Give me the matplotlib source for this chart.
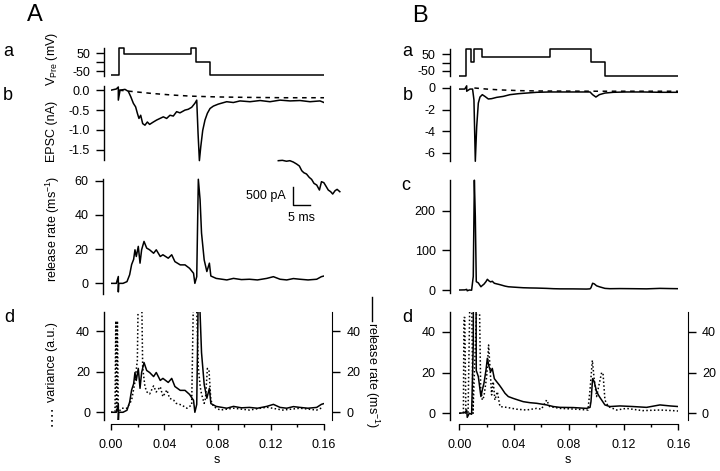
import matplotlib
matplotlib.use('Agg')
import matplotlib.pyplot as plt
from matplotlib.lines import Line2D
from matplotlib.ticker import MultipleLocator

plt.rcParams['font.family'] = ['Liberation Sans', 'DejaVu Sans']
plt.rcParams['mathtext.default'] = 'regular'

# ---- panel A data (time in s) ----
a_vpre_t = [0.0, 0.006, 0.010, 0.060, 0.064, 0.074, 0.160]
a_vpre_v = [-74, 78, 48, 78, 2, -74, -74]

a_epsc_t = [0.0, 0.004, 0.0055, 0.0055, 0.0068, 0.0105, 0.013, 0.0148, 0.0168, 0.0185, 0.0198, 0.021,
            0.0223, 0.0238, 0.0255, 0.0273, 0.029, 0.0318, 0.0343, 0.0368, 0.0393, 0.0418, 0.0443,
            0.0468, 0.0493, 0.0518, 0.0556, 0.058, 0.0606, 0.063, 0.0644, 0.0654, 0.0664, 0.0674,
            0.0689, 0.0706, 0.0724, 0.0744, 0.0769, 0.0806, 0.0869, 0.0919, 0.0969, 0.1044, 0.112,
            0.1194, 0.127, 0.1345, 0.142, 0.1495, 0.157, 0.160]
a_epsc_v = [0.0, 0.03, 0.08, -0.25, 0.0, 0.02, -0.03, -0.16, -0.33, -0.42, -0.58, -0.71,
            -0.63, -0.84, -0.88, -0.80, -0.86, -0.80, -0.75, -0.71, -0.67, -0.71, -0.63,
            -0.65, -0.54, -0.57, -0.50, -0.48, -0.43, -0.33, -0.25, -1.09, -1.77, -1.43,
            -1.01, -0.75, -0.58, -0.46, -0.40, -0.35, -0.29, -0.31, -0.27, -0.29, -0.26,
            -0.29, -0.25, -0.27, -0.26, -0.29, -0.27, -0.31]
a_fit_t = [0.006, 0.015, 0.03, 0.045, 0.06, 0.08, 0.10, 0.13, 0.16]
a_fit_v = [0.0, -0.03, -0.08, -0.12, -0.15, -0.17, -0.18, -0.19, -0.19]

a_rate_t = [0.0005, 0.004, 0.0055, 0.0055, 0.0058, 0.009, 0.012, 0.014, 0.0155, 0.017, 0.018, 0.019,
            0.0205, 0.0218, 0.023, 0.0248, 0.0268, 0.029, 0.032, 0.034, 0.037, 0.039, 0.043,
            0.0456, 0.048, 0.052, 0.0556, 0.059, 0.062, 0.063, 0.0644, 0.0656, 0.0669, 0.068,
            0.070, 0.072, 0.0739, 0.075, 0.079, 0.087, 0.092, 0.098, 0.104, 0.110, 0.117, 0.122,
            0.127, 0.132, 0.137, 0.142, 0.148, 0.1545, 0.158, 0.160]
a_rate_v = [0, 0, 4, -5, 0, 0, 1, 5, 11, 14, 19.6, 15.7,
            21.6, 11.8, 19.6, 24.5, 20.6, 19.6, 17.6, 19.6, 15.7, 16.7, 14.7,
            16.7, 12.7, 10.8, 10.8, 8.8, 5.9, 0, 3.9, 60.8, 49, 29.4,
            13.7, 6.9, 11.8, 4.3, 2.9, 2.0, 2.9, 2.2, 2.4, 2.0, 2.9, 3.9,
            2.4, 2.0, 2.8, 2.4, 2.0, 2.4, 3.9, 4.3]

a_var_t = [0.0, 0.003, 0.0036, 0.0042, 0.0048, 0.0055, 0.008, 0.012, 0.0155, 0.018, 0.0198, 0.0205,
           0.023, 0.0238, 0.0255, 0.027, 0.029, 0.032, 0.034, 0.037, 0.039, 0.042, 0.044, 0.047,
           0.049, 0.053, 0.057, 0.0606, 0.062, 0.064, 0.0656, 0.067, 0.068, 0.070, 0.071, 0.0724,
           0.0736, 0.075, 0.077, 0.082, 0.092, 0.104, 0.117, 0.129, 0.142, 0.1545, 0.1595]
a_var_v = [0, 0.3, 45, 1, 45, 0, 2, 2, 6, 15, 25.7, 60,
           60, 22, 12.6, 10, 9, 13, 10, 12.6, 7.7, 11, 6.9, 6,
           4.4, 3.6, 2, 3.6, 60, 60, 22, 12.6, 9, 4.4, 6.9, 21.6,
           20.8, 6, 2.8, 1.1, 2, 1.1, 2.5, 1.1, 2, 1.1, 2.5]

# inset: EPSC detail (ms, pA)
ins_t = [0.0, 1.2, 2.4, 3.4, 4.4, 5.4, 6.2, 6.9, 7.5, 8.3, 9.1, 9.8, 10.5, 11.3, 12.1,
         12.7, 13.4, 14.0, 14.7, 15.4, 16.0, 16.7, 17.3, 18.1]
ins_v = [0, 10, -15, 0, -37, -93, -148, -278, -333, -370, -463, -519, -630, -676, -815,
         -583, -611, -704, -815, -861, -926, -833, -796, -861]

# ---- panel B data ----
b_vpre_t = [0.0, 0.005, 0.0085, 0.011, 0.0164, 0.066, 0.096, 0.1065, 0.160]
b_vpre_v = [-79, 78, 1, 78, 34, 78, 1, -79, -79]

b_epsc_t = [0.0, 0.004, 0.0054, 0.0054, 0.0078, 0.0097, 0.0107, 0.0117, 0.0127, 0.0139, 0.0151,
            0.0168, 0.0187, 0.0212, 0.0236, 0.0273, 0.0321, 0.037, 0.0431, 0.0492, 0.0565,
            0.0662, 0.0784, 0.0955, 0.0974, 0.0998, 0.1023, 0.1064, 0.1125, 0.1222, 0.1344,
            0.1466, 0.160]
b_epsc_v = [-0.1, -0.1, 0.2, -0.3, -0.1, -0.1, -1.1, -6.8, -3.6, -1.4, -0.84,
            -0.62, -0.78, -1.02, -0.99, -0.87, -0.78, -0.62, -0.53, -0.47, -0.40,
            -0.37, -0.37, -0.37, -0.62, -0.84, -0.62, -0.47, -0.40, -0.37, -0.37,
            -0.40, -0.40]
b_fit_t = [0.011, 0.02, 0.03, 0.045, 0.06, 0.10, 0.16]
b_fit_v = [0.0, -0.1, -0.18, -0.25, -0.28, -0.30, -0.30]

b_rate_t = [0.0, 0.004, 0.0054, 0.0058, 0.0073, 0.009, 0.0102, 0.011, 0.0117, 0.0124, 0.0139,
            0.0158, 0.0168, 0.018, 0.0195, 0.0205, 0.0217, 0.0229, 0.0241, 0.0256, 0.0273,
            0.0292, 0.031, 0.0334, 0.0358, 0.0394, 0.043, 0.0467, 0.0516, 0.0565, 0.0638,
            0.0687, 0.0735, 0.0833, 0.093, 0.0955, 0.0962, 0.0974, 0.0986, 0.1003, 0.1023,
            0.104, 0.1064, 0.110, 0.1174, 0.127, 0.1368, 0.1466, 0.154, 0.160]
b_rate_v = [0, 0.3, 1.6, -2, 0, -0.5, 34, 277, 185, 21, 18,
            8.2, 11.4, 14.7, 21.2, 27, 22.9, 20.4, 22, 17, 15.5,
            13.9, 12.2, 9.8, 8.2, 7.3, 6.5, 5.7, 5.2, 4.9, 4.1,
            3.3, 2.9, 2.8, 2.4, 2.9, 5.7, 17, 15.5, 10.6, 8.2,
            6.5, 4.1, 3.3, 3.6, 3.3, 2.9, 4.1, 3.6, 3.3]

b_var_t = [0.0, 0.003, 0.0034, 0.0040, 0.0048, 0.0064, 0.0078, 0.0090, 0.0100, 0.0131, 0.0146,
           0.0156, 0.0168, 0.018, 0.020, 0.0214, 0.0224, 0.0236, 0.0248, 0.026, 0.0278, 0.0297,
           0.0346, 0.0419, 0.049, 0.0565, 0.060, 0.0638, 0.066, 0.0735, 0.0857, 0.094, 0.0955,
           0.0972, 0.0986, 0.1003, 0.1023, 0.104, 0.105, 0.1064, 0.1088, 0.115, 0.122, 0.134,
           0.1466, 0.156, 0.160]
b_var_v = [0, 0.3, 47, 47, 0, 0, 60, 60, 0, 60, 60,
           13, 6.5, 8.2, 18, 33.5, 22.9, 9, 15.5, 6.5, 10.6, 3.3,
           2.9, 2.0, 1.6, 2.4, 2.0, 6.5, 3.3, 2.4, 2.0, 1.6, 11.4,
           26, 16.3, 8.2, 14.7, 20, 19.6, 6.5, 3.3, 1.6, 2.4, 1.3,
           1.6, 1.3, 1.1]

x_ticks = [0.0, 0.04, 0.08, 0.12, 0.16]
x_labels = ['0.00', '0.04', '0.08', '0.12', '0.16']

W, H = 720, 471
FS = 9
fig = plt.figure(figsize=(W / 100, H / 100), dpi=100)


def px_axes(x0, y0, x1, y1):
    return fig.add_axes([x0 / W, 1 - y1 / H, (x1 - x0) / W, (y1 - y0) / H])


def style(ax, ylim, yticks, ylabels, left_out, bounds=None, xaxis=False):
    ax.set_xlim(0, 0.16)
    ax.set_ylim(*ylim)
    ax.patch.set_visible(False)
    for s in ['top', 'right']:
        ax.spines[s].set_visible(False)
    ax.spines['left'].set_position(('outward', left_out))
    ax.spines['left'].set_linewidth(1.0)
    if bounds is not None:
        ax.spines['left'].set_bounds(*bounds)
    ax.set_yticks(yticks)
    ax.set_yticklabels(ylabels)
    ax.tick_params(axis='y', direction='out', length=6, width=1, pad=4, labelsize=FS)
    if xaxis:
        ax.spines['bottom'].set_position(('outward', 3))
        ax.spines['bottom'].set_bounds(0, 0.16)
        ax.set_xticks(x_ticks)
        ax.set_xticklabels(x_labels)
        ax.xaxis.set_minor_locator(MultipleLocator(0.02))
        ax.tick_params(axis='x', which='major', direction='out', length=4.5, width=1, pad=6, labelsize=FS)
        ax.tick_params(axis='x', which='minor', direction='out', length=2.5, width=1)
    else:
        ax.spines['bottom'].set_visible(False)
        ax.set_xticks([])


def right_axis(ax, ylim, out):
    tw = ax.twinx()
    tw.set_ylim(*ylim)
    for s in ['top', 'left', 'bottom']:
        tw.spines[s].set_visible(False)
    tw.spines['right'].set_position(('outward', out))
    tw.set_yticks([0, 20, 40])
    tw.tick_params(axis='y', direction='out', length=6, width=1, pad=4, labelsize=FS)
    return tw


LW = 1.1

# ================= column A =================
ax = px_axes(111, 45, 324, 78)
ax.plot(a_vpre_t, a_vpre_v, color='black', lw=LW, drawstyle='steps-post')
style(ax, (-89, 97), [-50, 0, 50], ['-50', '', '50'], 5, bounds=(-75, 80))

ax = px_axes(111, 85, 324, 165)
ax.plot(a_fit_t, a_fit_v, color='black', lw=LW, ls=(0, (3, 3)))
ax.plot(a_epsc_t, a_epsc_v, color='black', lw=LW)
style(ax, (-1.88, 0.13), [-1.5, -1.0, -0.5, 0.0], ['-1.5', '-1.0', '-0.5', '0.0'], 5, bounds=(-1.75, 0.1))

ax = px_axes(111, 175, 324, 295)
ax.plot(a_rate_t, a_rate_v, color='black', lw=LW)
style(ax, (-6.8, 63.3), [0, 20, 40, 60], ['0', '20', '40', '60'], 6, bounds=(-6, 61))

ins = px_axes(270, 155, 345, 225)
ins.set_xlim(-2.44, 19.62)
ins.set_ylim(-1786, 158)
ins.axis('off')
ins.plot(ins_t, ins_v, color='black', lw=LW)
ins.plot([4.4, 4.4, 9.4], [-730, -1230, -1230], color='black', lw=1.0)
ins.text(2.2, -985, '500 pA', ha='right', va='center', fontsize=FS)
ins.text(6.9, -1580, '5 ms', ha='center', va='center', fontsize=FS)

ax = px_axes(111, 312, 324, 420)
ax.plot(a_var_t, a_var_v, color='black', lw=LW, ls=(0, (1, 1.5)))
ax.plot(a_rate_t, a_rate_v, color='black', lw=LW)
style(ax, (-3.8, 49.4), [0, 20, 40], ['0', '20', '40'], 5, xaxis=True)
right_axis(ax, (-3.8, 49.4), 6)

# ================= column B =================
ax = px_axes(459.3, 45, 678.3, 80)
ax.plot(b_vpre_t, b_vpre_v, color='black', lw=LW, drawstyle='steps-post')
style(ax, (-103, 103), [-50, 0, 50], ['-50', '', '50'], 7, bounds=(-80, 78))

ax = px_axes(459.3, 84, 678.3, 163)
ax.plot(b_fit_t, b_fit_v, color='black', lw=LW, ls=(0, (3, 3)))
ax.plot(b_epsc_t, b_epsc_v, color='black', lw=LW)
style(ax, (-6.96, 0.37), [-6, -4, -2, 0], ['-6', '-4', '-2', '0'], 7, bounds=(-6.8, 0.2))

ax = px_axes(459.3, 178, 678.3, 295)
ax.plot(b_rate_t, b_rate_v, color='black', lw=LW)
style(ax, (-12.6, 282.5), [0, 100, 200], ['0', '100', '200'], 7, bounds=(-8, 277))

ax = px_axes(459.3, 312, 678.3, 420)
ax.plot(b_var_t, b_var_v, color='black', lw=LW, ls=(0, (1, 1.5)))
ax.plot(b_rate_t, b_rate_v, color='black', lw=LW)
style(ax, (-3.3, 49.7), [0, 20, 40], ['0', '20', '40'], 7, xaxis=True)
right_axis(ax, (-3.3, 49.7), 7)

# ================= text =================
def ftext(x, y, s, **kw):
    fig.text(x / W, 1 - y / H, s, **kw)


ftext(35, 15, 'A', fontsize=17, ha='center', va='center')
ftext(420, 16, 'B', fontsize=17, ha='center', va='center')
for lab, x, y in [('a', 8, 51), ('b', 8, 95), ('d', 9, 317),
                  ('a', 407, 51), ('b', 408, 95), ('c', 406, 185), ('d', 407, 318)]:
    ftext(x, y, lab, fontsize=13, ha='center', va='center')

ftext(52, 59, r'V$_{Pre}$ (mV)', rotation=90, ha='center', va='center', fontsize=FS)
ftext(52, 131, 'EPSC (nA)', rotation=90, ha='center', va='center', fontsize=FS)
ftext(53, 229, r'release rate (ms$^{-1}$)', rotation=90, ha='center', va='center', fontsize=FS)
ftext(52, 362, 'variance (a.u.)', rotation=90, ha='center', va='center', fontsize=FS)
fig.add_artist(Line2D([51.5 / W, 51.5 / W], [1 - 410 / H, 1 - 430 / H], color='black',
                      lw=1.2, ls=(0, (1, 2)), transform=fig.transFigure))
ftext(372, 375, r'release rate (ms$^{-1}$)', rotation=-90, ha='center', va='center', fontsize=FS)
fig.add_artist(Line2D([372 / W, 372 / W], [1 - 297 / H, 1 - 321 / H], color='black',
                      lw=1.0, transform=fig.transFigure))

ftext(217, 460, 's', ha='center', va='center', fontsize=FS)
ftext(568, 460, 's', ha='center', va='center', fontsize=FS)

fig.savefig('out.png', dpi=100)
